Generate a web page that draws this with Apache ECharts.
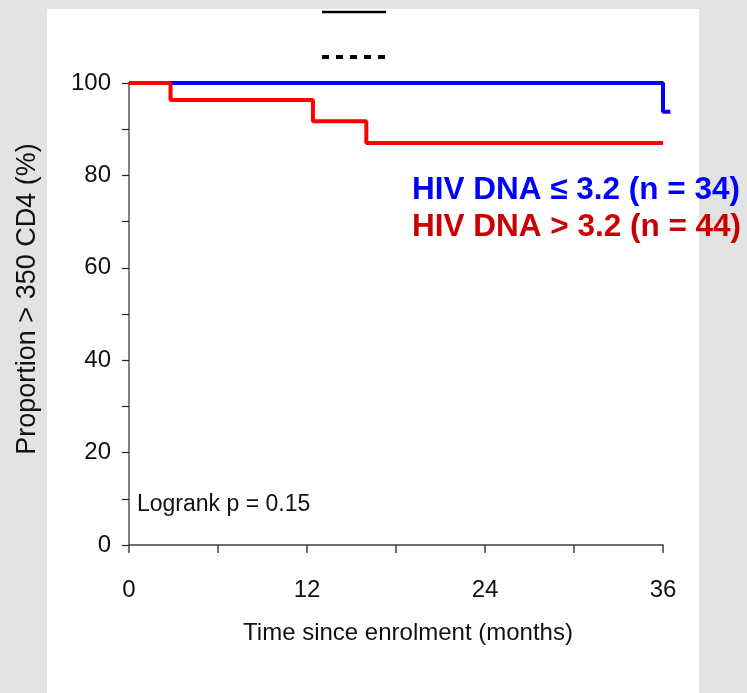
<!DOCTYPE html>
<html><head><meta charset="utf-8">
<script src="https://cdn.jsdelivr.net/npm/echarts@6/dist/echarts.min.js"></script>
<style>html,body{margin:0;padding:0;background:#e3e3e3}#c{width:747px;height:693px}</style>
</head><body><div id="c"></div>
<script>
// Kaplan-Meier steps (months, % with CD4 > 350)
const timeLow = [0, 36, 36.5];
const pctLow = [100, 93.8, 93.8];
const timeHigh = [0, 2.8, 12.4, 16, 36];
const pctHigh = [100, 96.3, 91.7, 87.0, 87.0];
const xLabelTicks = [0, 12, 24, 36];
const yLabelTicks = [0, 20, 40, 60, 80, 100];
const labelLow = 'HIV DNA ≤ 3.2 (n = 34)';
const labelHigh = 'HIV DNA > 3.2 (n = 44)';
const pText = 'Logrank p = 0.15';
const xTitle = 'Time since enrolment (months)';
const yTitle = 'Proportion > 350 CD4 (%)';

const SANS = "'Liberation Sans',Arial,sans-serif";
const X_MAX = 36, X_DATA_MAX = 36.5;
const GL = 129, GR = 84, GT = 83, GB = 148, W = 747;
const plotW = W - GL - GR;
const dataW = plotW * X_DATA_MAX / X_MAX;

const chart = echarts.init(document.getElementById('c'), null, {renderer:'canvas'});
chart.setOption({
  backgroundColor: '#e3e3e3',
  animation: false,
  grid: [
    {left: GL, right: GR, top: GT, bottom: GB},
    {left: GL, right: W - GL - dataW, top: GT, bottom: GB}
  ],
  xAxis: [{
    type: 'value', gridIndex: 0, min: 0, max: X_MAX, interval: 6,
    axisLine: {show: true, onZero: false, lineStyle: {color: '#404040', width: 1.5}},
    axisTick: {show: true, length: 8, lineStyle: {color: '#404040', width: 1.5}},
    splitLine: {show: false},
    axisLabel: {
      margin: 33, color: '#111', fontFamily: SANS, fontSize: 24,
      formatter: v => xLabelTicks.includes(v) ? String(v) : ''
    },
    name: xTitle, nameLocation: 'middle', nameGap: 76,
    nameTextStyle: {color: '#111', fontFamily: SANS, fontSize: 24, padding: [0, 0, 0, 24]}
  }, {
    type: 'value', gridIndex: 1, min: 0, max: X_DATA_MAX, show: false
  }],
  yAxis: [{
    type: 'value', gridIndex: 0, min: 0, max: 100, interval: 10,
    axisLine: {show: true, onZero: false, lineStyle: {color: '#808080', width: 2}},
    axisTick: {show: true, length: 7, lineStyle: {color: '#222', width: 1.2}},
    splitLine: {show: false},
    axisLabel: {
      margin: 18, color: '#111', fontFamily: SANS, fontSize: 24,
      formatter: v => yLabelTicks.includes(v) ? String(v) : ''
    }
  }, {
    type: 'value', gridIndex: 1, min: 0, max: 100, show: false
  }],
  graphic: [
    {type: 'rect', z: -10, shape: {x: 47, y: 9, width: 652, height: 684}, style: {fill: '#ffffff'}},
    {type: 'line', z: 100, shape: {x1: 322, y1: 12, x2: 386, y2: 12}, style: {stroke: '#000', lineWidth: 2.5}},
    {type: 'line', z: 100, shape: {x1: 322, y1: 57, x2: 386, y2: 57}, style: {stroke: '#000', lineWidth: 4, lineDash: [7, 7]}},
    {type: 'text', z: 100, x: 28, y: 299, rotation: Math.PI / 2,
      style: {text: yTitle, fill: '#111', font: "27px " + SANS, align: 'center', verticalAlign: 'middle'}},
    {type: 'text', z: 100, x: 137, y: 505,
      style: {text: pText, fill: '#111', font: "23px " + SANS, align: 'left', verticalAlign: 'middle'}},
    {type: 'text', z: 100, x: 412, y: 190,
      style: {text: labelLow, fill: '#0000ff', font: "bold 31.5px " + SANS, align: 'left', verticalAlign: 'middle'}},
    {type: 'text', z: 100, x: 412, y: 227,
      style: {text: labelHigh, fill: '#cc0000', font: "bold 31.5px " + SANS, align: 'left', verticalAlign: 'middle'}}
  ],
  series: [
    {type: 'line', xAxisIndex: 1, yAxisIndex: 1, step: 'end', symbol: 'none', clip: false, z: 3,
      lineStyle: {color: '#0000ff', width: 4},
      data: timeLow.map((t, i) => [t, pctLow[i]])},
    {type: 'line', xAxisIndex: 1, yAxisIndex: 1, step: 'end', symbol: 'none', clip: false, z: 4,
      lineStyle: {color: '#ff0000', width: 4},
      data: timeHigh.map((t, i) => [t, pctHigh[i]])}
  ]
});
</script></body></html>
